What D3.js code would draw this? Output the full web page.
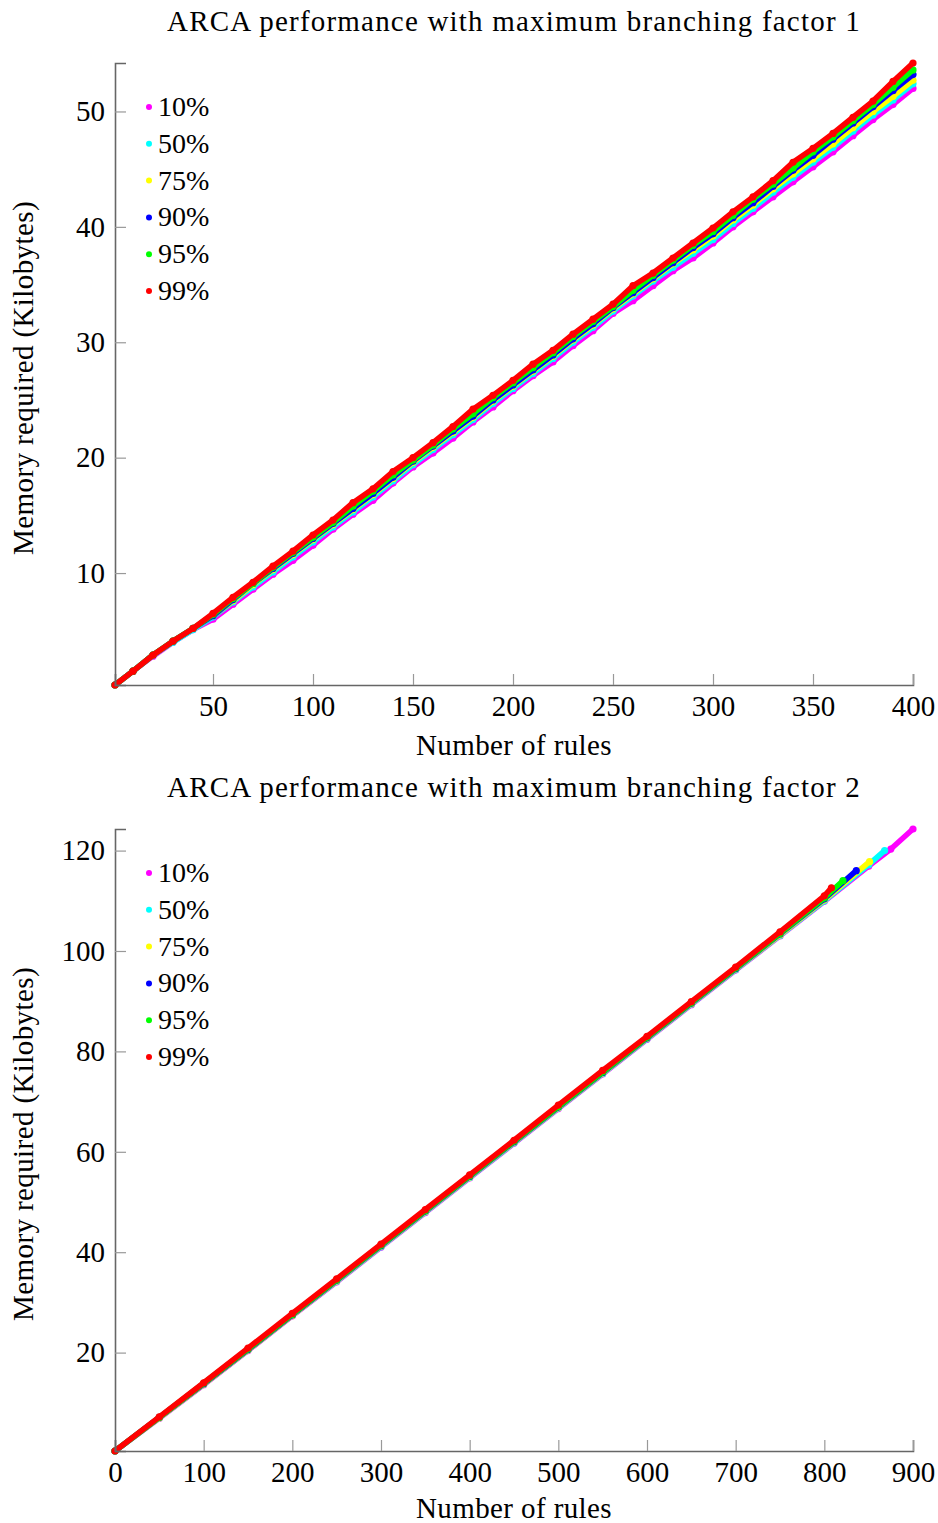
<!DOCTYPE html>
<html>
<head>
<meta charset="utf-8">
<script src="https://cdn.jsdelivr.net/npm/d3@7"></script>
<style>
  body { margin: 0; background: #fff; }
  text { font-family: "Liberation Serif", "DejaVu Serif", serif; fill: #000; }
</style>
</head>
<body>
<div id="chart"></div>
<script>
// series names and colours (same for both panels)
var seriesNames = ["10%", "50%", "75%", "90%", "95%", "99%"];
var seriesColors = ["#ff00ff", "#00ffff", "#ffff00", "#0000ff", "#00ff00", "#ff0000"];

// panel 1 : branching factor 1, rules sampled every 10
var rules1 = [1,10,20,30,40,50,60,70,80,90,100,110,120,130,140,150,160,170,180,190,200,
  210,220,230,240,250,260,270,280,290,300,310,320,330,340,350,360,370,380,390,400];
var mem1_10 = [0.3,1.5,2.8,4.0,5.1,6.0,7.3,8.6,9.9,11.1,12.4,13.8,15.1,16.3,17.8,19.2,20.4,21.7,23.1,24.4,25.8,
  27.1,28.3,29.7,31.0,32.5,33.6,34.9,36.2,37.3,38.6,40.0,41.3,42.6,43.9,45.2,46.5,47.9,49.3,50.6,52.0];
var mem1_50 = [0.3,1.5,2.9,4.0,5.1,6.2,7.5,8.8,10.1,11.4,12.7,14.0,15.3,16.6,18.0,19.4,20.7,22.0,23.3,24.7,26.0,
  27.3,28.6,30.0,31.3,32.7,34.0,35.3,36.5,37.7,38.9,40.3,41.6,43.0,44.3,45.6,46.9,48.3,49.7,51.0,52.4];
var mem1_75 = [0.3,1.5,2.9,4.1,5.2,6.3,7.6,9.0,10.3,11.6,12.9,14.2,15.5,16.8,18.2,19.6,20.9,22.2,23.5,24.9,26.2,
  27.5,28.8,30.2,31.5,32.9,34.2,35.5,36.8,38.0,39.2,40.6,41.9,43.3,44.6,45.9,47.2,48.6,50.0,51.3,52.7];
var mem1_90 = [0.3,1.5,2.9,4.1,5.2,6.3,7.7,9.1,10.4,11.7,13.0,14.3,15.6,16.9,18.3,19.7,21.0,22.3,23.6,25.0,26.3,
  27.6,28.9,30.3,31.6,33.0,34.3,35.6,36.9,38.2,39.4,40.8,42.1,43.5,44.9,46.2,47.6,49.0,50.4,51.8,53.2];
var mem1_95 = [0.3,1.5,2.9,4.1,5.2,6.4,7.8,9.1,10.5,11.8,13.1,14.4,15.8,17.1,18.5,19.8,21.1,22.5,23.8,25.2,26.5,
  27.8,29.1,30.5,31.8,33.1,34.5,35.8,37.1,38.4,39.6,41.0,42.4,43.7,45.1,46.5,47.8,49.2,50.6,52.1,53.6];
var mem1_99 = [0.3,1.5,2.9,4.1,5.2,6.5,7.9,9.2,10.6,11.9,13.3,14.6,16.1,17.3,18.8,20.0,21.3,22.7,24.2,25.4,26.7,
  28.1,29.3,30.7,32.0,33.3,34.9,36.0,37.3,38.6,39.9,41.3,42.6,44.0,45.6,46.8,48.1,49.5,50.9,52.6,54.2];

// panel 2 : branching factor 2, rules sampled every 50 plus the last point of each series
var rules2_10 = [0,50,100,150,200,250,300,350,400,450,500,550,600,650,700,750,800,850,875,900];
var mem2_10 = [0.4,6.9,13.6,20.4,27.3,34.1,41.0,47.9,54.8,61.7,68.6,75.5,82.4,89.3,96.2,103.0,109.9,116.9,120.3,124.3];
var rules2_50 = [0,50,100,150,200,250,300,350,400,450,500,550,600,650,700,750,800,850,868];
var mem2_50 = [0.4,7.0,13.7,20.5,27.4,34.2,41.1,48.0,54.9,61.8,68.7,75.6,82.5,89.4,96.3,103.1,110.0,117.2,120.0];
var rules2_75 = [0,50,100,150,200,250,300,350,400,450,500,550,600,650,700,750,800,851];
var mem2_75 = [0.4,7.0,13.7,20.5,27.4,34.3,41.2,48.1,55.0,61.9,68.8,75.7,82.6,89.5,96.4,103.2,110.2,117.8];
var rules2_90 = [0,50,100,150,200,250,300,350,400,450,500,550,600,650,700,750,800,836];
var mem2_90 = [0.4,7.1,13.8,20.6,27.5,34.4,41.3,48.2,55.1,62.0,68.9,75.8,82.7,89.6,96.5,103.4,110.4,116.0];
var rules2_95 = [0,50,100,150,200,250,300,350,400,450,500,550,600,650,700,750,800,821];
var mem2_95 = [0.4,7.1,13.9,20.7,27.6,34.5,41.4,48.3,55.2,62.1,69.0,75.9,82.8,89.7,96.6,103.5,110.6,114.0];
var rules2_99 = [0,50,100,150,200,250,300,350,400,450,500,550,600,650,700,750,800,808];
var mem2_99 = [0.4,7.2,14.0,20.9,27.8,34.7,41.6,48.5,55.4,62.3,69.3,76.2,83.0,89.9,96.8,103.8,111.0,112.6];

// tick values
var xTicks1 = [50,100,150,200,250,300,350,400];
var yTicks1 = [10,20,30,40,50];
var xTicks2 = [0,100,200,300,400,500,600,700,800,900];
var yTicks2 = [20,40,60,80,100,120];

var panels = [
  {
    title: "ARCA performance with maximum branching factor 1",
    xs: [rules1, rules1, rules1, rules1, rules1, rules1],
    ys: [mem1_10, mem1_50, mem1_75, mem1_90, mem1_95, mem1_99],
    xDomain: [1, 400], xTicks: xTicks1, yTicks: yTicks1,
    top: 63, bottom: 685, xLabelDy: 70
  },
  {
    title: "ARCA performance with maximum branching factor 2",
    xs: [rules2_10, rules2_50, rules2_75, rules2_90, rules2_95, rules2_99],
    ys: [mem2_10, mem2_50, mem2_75, mem2_90, mem2_95, mem2_99],
    xDomain: [0, 900], xTicks: xTicks2, yTicks: yTicks2,
    top: 829, bottom: 1451, xLabelDy: 67
  }
];

var W = 938, H = 1523, left = 115, right = 913;

var svg = d3.select("#chart").append("svg")
  .attr("width", W).attr("height", H);

panels.forEach(function(p) {
  var allY = d3.merge(p.ys);
  var x = d3.scaleLinear().domain(p.xDomain).range([left, right]);
  var y = d3.scaleLinear().domain(d3.extent(allY)).range([p.bottom, p.top]);

  var g = svg.append("g");

  // title
  g.append("text")
    .attr("x", (left + right) / 2).attr("y", p.top - 32)
    .attr("text-anchor", "middle").style("font-size", "29px")
    .style("letter-spacing", "1.2px")
    .text(p.title);

  // data: thick path + markers, red drawn last
  var line = d3.line().x(function(d) { return x(d[0]); }).y(function(d) { return y(d[1]); });
  p.ys.forEach(function(vals, i) {
    var pts = vals.map(function(v, j) { return [p.xs[i][j], v]; });
    g.append("path")
      .datum(pts)
      .attr("d", line)
      .attr("fill", "none")
      .attr("stroke", seriesColors[i])
      .attr("stroke-width", 5.5)
      .attr("stroke-linecap", "round")
      .attr("stroke-linejoin", "round");
    g.selectAll(".pt" + i)
      .data(pts)
      .enter().append("circle")
      .attr("class", "pt" + i)
      .attr("cx", function(d) { return x(d[0]); })
      .attr("cy", function(d) { return y(d[1]); })
      .attr("r", 3.6)
      .style("fill", seriesColors[i]);
  });

  // axes (left + bottom only, ticks pointing inward)
  var xAxis = d3.axisBottom(x).tickValues(p.xTicks).tickSize(-11).tickPadding(22).tickFormat(d3.format("d"));
  var yAxis = d3.axisLeft(y).tickValues(p.yTicks).tickSize(-11).tickPadding(22).tickFormat(d3.format("d"));

  var gx = g.append("g").attr("transform", "translate(0," + p.bottom + ")").call(xAxis);
  var gy = g.append("g").attr("transform", "translate(" + left + ",0)").call(yAxis);

  [gx, gy].forEach(function(a) {
    a.select(".domain").attr("stroke", "#666").attr("stroke-width", 1.6);
    a.selectAll(".tick line").attr("stroke", "#999").attr("stroke-width", 1.2);
    a.selectAll(".tick text").style("font-size", "29px")
      .style("font-family", '"Liberation Serif", "DejaVu Serif", serif').attr("fill", "#000");
  });
  gy.selectAll(".tick text").attr("x", -10);
  gx.selectAll(".tick text").attr("y", 10);

  // axis labels
  g.append("text")
    .attr("x", (left + right) / 2).attr("y", p.bottom + p.xLabelDy)
    .attr("text-anchor", "middle").style("font-size", "29px")
    .style("letter-spacing", "0.4px")
    .text("Number of rules");
  g.append("text")
    .attr("transform", "translate(33," + ((p.top + p.bottom) / 2 + 4) + ") rotate(-90)")
    .attr("text-anchor", "middle").style("font-size", "29px")
    .style("letter-spacing", "0.4px")
    .text("Memory required (Kilobytes)");

  // legend
  var leg = g.append("g").attr("transform", "translate(149," + (p.top + 44) + ")");
  seriesNames.forEach(function(name, i) {
    var row = leg.append("g").attr("transform", "translate(0," + (i * 36.8) + ")");
    row.append("circle").attr("r", 3).style("fill", seriesColors[i]);
    row.append("text").attr("x", 9).attr("y", 9)
      .style("font-size", "28px").text(name);
  });
});
</script>
</body>
</html>
